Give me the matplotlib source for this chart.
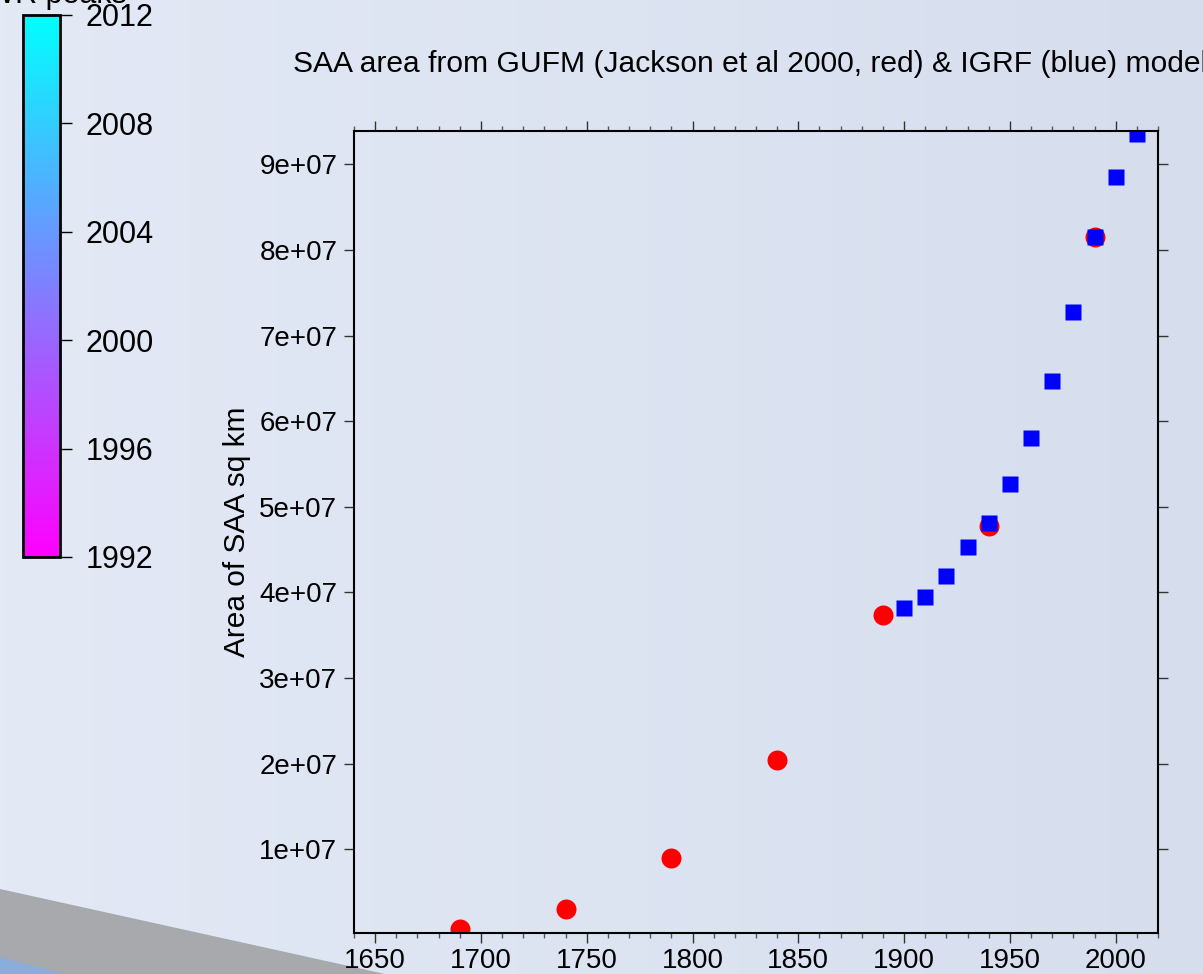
import numpy as np
import matplotlib
matplotlib.use('Agg')
import matplotlib.pyplot as plt
from matplotlib.patches import Polygon
from matplotlib.colors import Normalize
from matplotlib.cm import ScalarMappable
from matplotlib.ticker import MultipleLocator

plt.rcParams['font.family'] = ['Liberation Sans', 'DejaVu Sans']

# GUFM model (Jackson et al 2000) - red circles
gufm_years = [1690, 1740, 1790, 1840, 1890, 1940, 1990]
gufm_area = [0.69e6, 3.03e6, 9.0e6, 2.04e7, 3.74e7, 4.78e7, 8.15e7]

# IGRF model - blue squares
igrf_years = [1900, 1910, 1920, 1930, 1940, 1950, 1960, 1970, 1980, 1990, 2000, 2010]
igrf_area = [3.815e7, 3.95e7, 4.19e7, 4.53e7, 4.81e7, 5.26e7, 5.80e7,
             6.47e7, 7.27e7, 8.15e7, 8.85e7, 9.36e7]

cbar_ticks = [1992, 1996, 2000, 2004, 2008, 2012]

W, H = 1203, 974
fig = plt.figure(figsize=(W / 100, H / 100), dpi=100)

# slide-like background
bg = fig.add_axes([0, 0, 1, 1], zorder=-10)
grad = np.linspace(0, 1, 256)[None, :]
c0 = np.array([227, 233, 245]) / 255
c1 = np.array([214, 222, 238]) / 255
img = c0[None, None, :] * (1 - grad[..., None]) + c1[None, None, :] * grad[..., None]
bg.imshow(img, extent=[0, W, 0, H], aspect='auto')
bg.add_patch(Polygon([[0, H - 889], [385, H - 974], [0, H - 974]],
                     closed=True, color='#a8a9ac', lw=0))
bg.add_patch(Polygon([[0, H - 957], [63, 0], [0, 0]],
                     closed=True, color='#8cacdc', lw=0))
bg.set_xlim(0, W)
bg.set_ylim(0, H)
bg.axis('off')

# main axes
ax = fig.add_axes([354 / W, 1 - 933 / H, 804 / W, 802 / H])
ax.patch.set_alpha(0)
ax.plot(gufm_years, gufm_area, 'o', color='red', markersize=14.4, mec='none')
ax.plot(igrf_years, igrf_area, 's', color='blue', markersize=11, mec='none')
ax.set_xlim(1640, 2020)
ax.set_ylim(2e5, 9.39e7)
ax.xaxis.set_major_locator(MultipleLocator(50))
ax.xaxis.set_minor_locator(MultipleLocator(10))
ax.yaxis.set_major_locator(MultipleLocator(1e7))
ax.yaxis.set_major_formatter(lambda v, p: '%de+07' % round(v / 1e7) if v > 0 else '0')
ax.tick_params(axis='both', which='major', direction='out', length=7, width=1,
               labelsize=20, top=True, right=True, color='#333333')
ax.tick_params(axis='x', which='minor', direction='out', length=3.5, width=1,
               top=True, color='#555555')
ax.tick_params(axis='x', pad=4)
ax.tick_params(axis='y', pad=5)
for s in ax.spines.values():
    s.set_linewidth(1.5)
ax.set_ylabel('Area of SAA sq km', fontsize=21.5, labelpad=6)

fig.text(293 / W, 1 - 72 / H,
         'SAA area from GUFM (Jackson et al 2000, red) & IGRF (blue) models',
         fontsize=21.6, ha='left', va='baseline')

# colorbar
cax = fig.add_axes([23 / W, 1 - 557 / H, 37 / W, 542 / H])
sm = ScalarMappable(norm=Normalize(1992, 2012), cmap='cool_r')
cb = fig.colorbar(sm, cax=cax, ticks=cbar_ticks)
cb.outline.set_linewidth(2)
cax.tick_params(direction='out', length=8.5, width=1, labelsize=22, pad=10)
fig.text(127 / W, 1 - 3 / H, 'SWR peaks', fontsize=22, ha='right', va='baseline')

fig.savefig('out.png', dpi=100)
